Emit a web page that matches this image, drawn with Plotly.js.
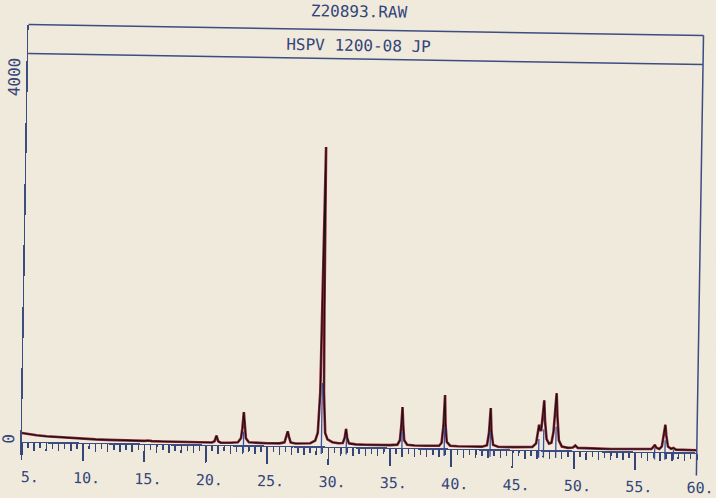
<!DOCTYPE html>
<html>
<head>
<meta charset="utf-8">
<script src="https://cdn.plot.ly/plotly-3.0.1.min.js"></script>
<style>
  html, body { margin:0; padding:0; background:#efeadb; overflow:hidden; }
  #wrap { width:716px; height:498px; transform: rotate(0.93deg); transform-origin: 358px 249px; }
</style>
</head>
<body>
<div id="wrap"><div id="plot" style="width:716px;height:498px;"></div></div>
<script>
// XRD pattern: 2-theta (deg) and counts
const twoTheta = [5.0,5.3,5.7,6.2,7.0,8.0,9.0,10.0,11.0,12.0,13.0,14.0,15.0,15.3,15.6,16.5,18.0,19.5,20.5,20.7,20.85,21.0,21.2,22.0,22.6,22.85,22.95,23.05,23.15,23.25,23.5,24.0,25.0,26.0,26.4,26.55,26.65,26.75,26.9,27.3,28.0,28.5,28.9,29.1,29.25,29.32,29.4,29.48,29.55,29.7,29.9,30.3,30.8,31.15,31.3,31.4,31.5,31.65,32.2,33.0,34.0,35.0,35.6,35.8,35.9,35.97,36.05,36.15,36.4,37.0,38.0,39.0,39.2,39.33,39.42,39.5,39.62,39.9,40.5,41.5,42.5,42.9,43.05,43.16,43.25,43.4,43.8,45.0,46.0,46.6,46.9,47.05,47.12,47.2,47.3,47.42,47.51,47.6,47.75,47.95,48.15,48.3,48.42,48.51,48.6,48.75,49.0,49.5,49.9,50.1,50.3,51.0,52.0,53.0,54.0,55.0,56.0,56.3,56.5,56.57,56.7,56.95,57.15,57.3,57.41,57.5,57.65,57.9,58.1,58.3,59.0,60.0];
const counts   = [95,88,80,72,62,54,47,41,37,34,31,29,29,34,28,26,24,23,24,38,100,38,24,24,30,75,185,365,185,75,32,27,25,26,38,110,160,105,38,27,26,33,62,150,600,1500,3310,1500,600,150,78,48,38,42,100,198,100,38,29,27,26,26,33,82,250,450,250,82,33,26,26,28,62,250,589,260,72,31,26,25,26,42,180,455,190,48,28,26,27,33,72,230,278,220,220,400,548,320,120,72,82,200,450,630,380,110,42,28,32,55,30,26,25,24,25,25,26,30,60,77,46,32,60,180,300,180,60,36,45,28,25,24];

// Reference stick pattern (blue)
const stickPos = [23.06,29.41,31.44,35.97,39.42,43.16,47.12,47.51,48.51,56.57,57.41,58.10];
const stickTop = [150,700,90,180,240,190,120,230,260,40,130,22];
const stickBottom = -85;

const xTickVals = [5,10,15,20,25,30,35,40,45,50,55,60];
const xTickText = ["\u00a05.","10.","15.","20.","25.","30.","35.","40.","45.","50.","55.","60."];
const yTickVals = [0,4000];
const yTickText = ["0","4000"];

const titleText = "Z20893.RAW";
const subTitleText = "HSPV 1200-08 JP";

const navy = "#34457a";
const lineNavy = "#3d4d82";

const sx = [], sy = [];
stickPos.forEach((p,i)=>{ sx.push(p,p,null); sy.push(stickBottom, stickTop[i], null); });

const traces = [
  {x:sx, y:sy, xaxis:'x2', yaxis:'y', mode:'lines', line:{color:'#3a4fa0', width:1.3}, hoverinfo:'skip'},
  {x:twoTheta, y:counts, mode:'lines', line:{color:'#8e2438', width:2.6}},
  {x:twoTheta, y:counts, mode:'lines', line:{color:'#181212', width:1.1}}
];

const mono = "DejaVu Sans Mono, monospace";
const layout = {
  width:716, height:498,
  margin:{l:25, r:16, t:30, b:38},
  paper_bgcolor:'#efeadb', plot_bgcolor:'#efeadb',
  showlegend:false,
  xaxis:{
    range:[5,60], anchor:'free', position:0.0302,
    showline:true, linecolor:lineNavy, linewidth:1.5,
    showgrid:false, zeroline:false,
    ticks:'outside', ticklen:17, tickwidth:1.8, tickcolor:navy,
    tickvals:xTickVals, ticktext:xTickText, ticklabelshift:4, ticklabelstandoff:4,
    ticklabeloverflow:'allow',
    tickfont:{family:mono, size:15, color:navy},
    minor:{dtick:0.5, tick0:5, ticks:'outside', ticklen:5, tickwidth:1.5, tickcolor:navy, showgrid:false}
  },
  xaxis2:{
    range:[5,60], overlaying:'x', anchor:'free', position:0.0302,
    showline:false, showgrid:false, zeroline:false,
    ticks:'outside', ticklen:8, tickwidth:1.5, tickcolor:navy, dtick:1, tick0:5,
    showticklabels:false
  },
  yaxis:{
    range:[-144,4608],
    showline:true, linecolor:lineNavy, linewidth:1.5,
    showgrid:false, zeroline:false, ticks:'',
    tickvals:yTickVals, ticktext:yTickText, tickangle:-90,
    tickfont:{family:mono, size:16, color:navy}
  },
  shapes:[
    {type:'line', xref:'paper', yref:'paper', x0:0, x1:1, y0:1, y1:1, line:{color:lineNavy, width:1.5}},
    {type:'line', xref:'paper', yref:'paper', x0:0, x1:1, y0:0.9326, y1:0.9326, line:{color:lineNavy, width:1.5}},
    {type:'line', xref:'paper', yref:'paper', x0:1, x1:1, y0:-0.023, y1:1, line:{color:lineNavy, width:1.5}}
  ],
  annotations:[
    {text:titleText, xref:'paper', yref:'paper', x:0.489, y:1.042, xanchor:'center', yanchor:'middle', showarrow:false, font:{family:mono, size:16, color:navy}},
    {text:subTitleText, xref:'paper', yref:'paper', x:0.489, y:0.963, xanchor:'center', yanchor:'middle', showarrow:false, font:{family:mono, size:16, color:navy}}
  ]
};

Plotly.newPlot('plot', traces, layout, {displayModeBar:false, staticPlot:true});
</script>
</body>
</html>
